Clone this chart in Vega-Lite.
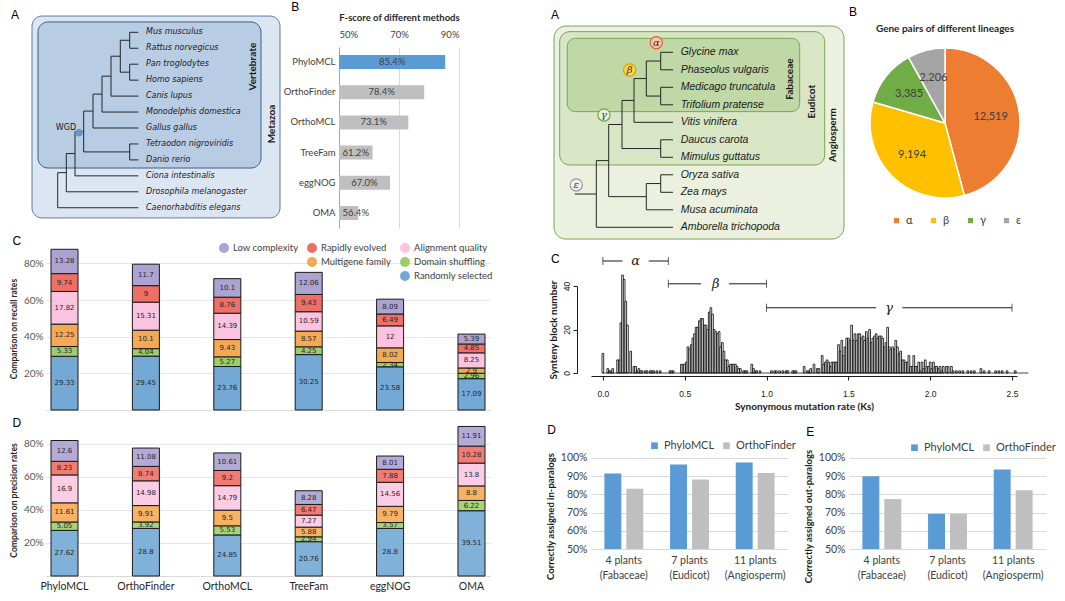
{
"$schema": "https://vega.github.io/schema/vega-lite/v6.json",
"padding": {"left": 8, "top": 0, "right": 0, "bottom": 0},
"config": {
  "view": {"stroke": "transparent"},
  "font": "Lato",
  "axis": {"labelFont": "Lato", "titleFont": "Lato", "labelColor": "#404040", "titleColor": "#262626", "gridColor": "#e3e3e3", "domainColor": "#bfbfbf", "tickColor": "#bfbfbf"},
  "legend": {"labelFont": "Lato", "labelColor": "#404040"},
  "title": {"font": "Liberation Sans", "fontSize": 12, "fontWeight": "normal", "color": "#000000", "anchor": "start", "baseline": "bottom"},
  "text": {"font": "Lato"}
},
"datasets": {
  "recall": [
    {"m":"PhyloMCL","c":"Randomly selected","o":1,"v":29.33},{"m":"PhyloMCL","c":"Domain shuffling","o":2,"v":5.33},{"m":"PhyloMCL","c":"Multigene family","o":3,"v":12.25},{"m":"PhyloMCL","c":"Alignment quality","o":4,"v":17.82},{"m":"PhyloMCL","c":"Rapidly evolved","o":5,"v":9.74},{"m":"PhyloMCL","c":"Low complexity","o":6,"v":13.28},
    {"m":"OrthoFinder","c":"Randomly selected","o":1,"v":29.45},{"m":"OrthoFinder","c":"Domain shuffling","o":2,"v":4.04},{"m":"OrthoFinder","c":"Multigene family","o":3,"v":10.1},{"m":"OrthoFinder","c":"Alignment quality","o":4,"v":15.31},{"m":"OrthoFinder","c":"Rapidly evolved","o":5,"v":9},{"m":"OrthoFinder","c":"Low complexity","o":6,"v":11.7},
    {"m":"OrthoMCL","c":"Randomly selected","o":1,"v":23.76},{"m":"OrthoMCL","c":"Domain shuffling","o":2,"v":5.27},{"m":"OrthoMCL","c":"Multigene family","o":3,"v":9.43},{"m":"OrthoMCL","c":"Alignment quality","o":4,"v":14.39},{"m":"OrthoMCL","c":"Rapidly evolved","o":5,"v":8.76},{"m":"OrthoMCL","c":"Low complexity","o":6,"v":10.1},
    {"m":"TreeFam","c":"Randomly selected","o":1,"v":30.25},{"m":"TreeFam","c":"Domain shuffling","o":2,"v":4.25},{"m":"TreeFam","c":"Multigene family","o":3,"v":8.57},{"m":"TreeFam","c":"Alignment quality","o":4,"v":10.59},{"m":"TreeFam","c":"Rapidly evolved","o":5,"v":9.43},{"m":"TreeFam","c":"Low complexity","o":6,"v":12.06},
    {"m":"eggNOG","c":"Randomly selected","o":1,"v":23.58},{"m":"eggNOG","c":"Domain shuffling","o":2,"v":2.34},{"m":"eggNOG","c":"Multigene family","o":3,"v":8.02},{"m":"eggNOG","c":"Alignment quality","o":4,"v":12},{"m":"eggNOG","c":"Rapidly evolved","o":5,"v":6.49},{"m":"eggNOG","c":"Low complexity","o":6,"v":8.09},
    {"m":"OMA","c":"Randomly selected","o":1,"v":17.09},{"m":"OMA","c":"Domain shuffling","o":2,"v":2.96},{"m":"OMA","c":"Multigene family","o":3,"v":2.9},{"m":"OMA","c":"Alignment quality","o":4,"v":8.25},{"m":"OMA","c":"Rapidly evolved","o":5,"v":4.85},{"m":"OMA","c":"Low complexity","o":6,"v":5.39}
  ],
  "precision": [
    {"m":"PhyloMCL","c":"Randomly selected","o":1,"v":27.62},{"m":"PhyloMCL","c":"Domain shuffling","o":2,"v":5.05},{"m":"PhyloMCL","c":"Multigene family","o":3,"v":11.61},{"m":"PhyloMCL","c":"Alignment quality","o":4,"v":16.9},{"m":"PhyloMCL","c":"Rapidly evolved","o":5,"v":8.23},{"m":"PhyloMCL","c":"Low complexity","o":6,"v":12.6},
    {"m":"OrthoFinder","c":"Randomly selected","o":1,"v":28.8},{"m":"OrthoFinder","c":"Domain shuffling","o":2,"v":3.92},{"m":"OrthoFinder","c":"Multigene family","o":3,"v":9.91},{"m":"OrthoFinder","c":"Alignment quality","o":4,"v":14.98},{"m":"OrthoFinder","c":"Rapidly evolved","o":5,"v":8.74},{"m":"OrthoFinder","c":"Low complexity","o":6,"v":11.08},
    {"m":"OrthoMCL","c":"Randomly selected","o":1,"v":24.85},{"m":"OrthoMCL","c":"Domain shuffling","o":2,"v":5.53},{"m":"OrthoMCL","c":"Multigene family","o":3,"v":9.5},{"m":"OrthoMCL","c":"Alignment quality","o":4,"v":14.79},{"m":"OrthoMCL","c":"Rapidly evolved","o":5,"v":9.2},{"m":"OrthoMCL","c":"Low complexity","o":6,"v":10.61},
    {"m":"TreeFam","c":"Randomly selected","o":1,"v":20.76},{"m":"TreeFam","c":"Domain shuffling","o":2,"v":2.94},{"m":"TreeFam","c":"Multigene family","o":3,"v":5.88},{"m":"TreeFam","c":"Alignment quality","o":4,"v":7.27},{"m":"TreeFam","c":"Rapidly evolved","o":5,"v":6.47},{"m":"TreeFam","c":"Low complexity","o":6,"v":8.28},
    {"m":"eggNOG","c":"Randomly selected","o":1,"v":28.8},{"m":"eggNOG","c":"Domain shuffling","o":2,"v":3.57},{"m":"eggNOG","c":"Multigene family","o":3,"v":9.79},{"m":"eggNOG","c":"Alignment quality","o":4,"v":14.56},{"m":"eggNOG","c":"Rapidly evolved","o":5,"v":7.88},{"m":"eggNOG","c":"Low complexity","o":6,"v":8.01},
    {"m":"OMA","c":"Randomly selected","o":1,"v":39.51},{"m":"OMA","c":"Domain shuffling","o":2,"v":6.22},{"m":"OMA","c":"Multigene family","o":3,"v":8.8},{"m":"OMA","c":"Alignment quality","o":4,"v":13.8},{"m":"OMA","c":"Rapidly evolved","o":5,"v":10.28},{"m":"OMA","c":"Low complexity","o":6,"v":11.91}
  ],
  "hist": [
    {"k":0,"n":9},{"k":0.03,"n":2},{"k":0.04,"n":1},{"k":0.05,"n":1},{"k":0.06,"n":2},{"k":0.09,"n":6},{"k":0.1,"n":6},{"k":0.11,"n":23},{"k":0.12,"n":45},{"k":0.13,"n":43},{"k":0.14,"n":33},{"k":0.15,"n":22},{"k":0.17,"n":10},{"k":0.19,"n":3},{"k":0.2,"n":3},{"k":0.21,"n":1},{"k":0.22,"n":2},{"k":0.23,"n":1},{"k":0.24,"n":1},{"k":0.26,"n":1},{"k":0.27,"n":1},{"k":0.29,"n":1},{"k":0.3,"n":1},{"k":0.31,"n":1},{"k":0.33,"n":1},{"k":0.35,"n":1},{"k":0.41,"n":1},{"k":0.42,"n":1},{"k":0.43,"n":1},
    {"k":0.48,"n":4},{"k":0.49,"n":4},{"k":0.5,"n":4},{"k":0.51,"n":5},{"k":0.52,"n":12},{"k":0.53,"n":11},{"k":0.54,"n":13},{"k":0.55,"n":16},{"k":0.56,"n":18},{"k":0.57,"n":21},{"k":0.58,"n":21},{"k":0.59,"n":24},{"k":0.6,"n":25},{"k":0.61,"n":25},{"k":0.62,"n":22},{"k":0.63,"n":22},{"k":0.64,"n":20},{"k":0.65,"n":28},{"k":0.66,"n":30},{"k":0.67,"n":27},{"k":0.68,"n":20},{"k":0.69,"n":19},{"k":0.7,"n":18},{"k":0.71,"n":19},{"k":0.72,"n":12},{"k":0.73,"n":14},{"k":0.74,"n":10},{"k":0.75,"n":6},{"k":0.76,"n":6},{"k":0.77,"n":3},{"k":0.78,"n":4},{"k":0.79,"n":4},{"k":0.8,"n":4},{"k":0.81,"n":4},{"k":0.82,"n":3},{"k":0.83,"n":2},{"k":0.84,"n":2},{"k":0.86,"n":1},{"k":0.87,"n":1},{"k":0.88,"n":1},{"k":0.91,"n":4},{"k":0.92,"n":2},{"k":0.93,"n":1},{"k":0.94,"n":1},{"k":0.96,"n":1},
    {"k":1.03,"n":1},{"k":1.05,"n":1},{"k":1.06,"n":1},{"k":1.08,"n":1},{"k":1.1,"n":1},{"k":1.12,"n":1},{"k":1.13,"n":1},{"k":1.16,"n":1},{"k":1.17,"n":1},{"k":1.18,"n":1},{"k":1.23,"n":3},{"k":1.25,"n":1},{"k":1.26,"n":1},{"k":1.27,"n":2},{"k":1.29,"n":4},{"k":1.31,"n":2},{"k":1.32,"n":2},
    {"k":1.34,"n":8},{"k":1.35,"n":4},{"k":1.36,"n":5},{"k":1.37,"n":6},{"k":1.38,"n":5},{"k":1.39,"n":3},{"k":1.4,"n":5},{"k":1.41,"n":5},{"k":1.42,"n":5},{"k":1.43,"n":5},{"k":1.44,"n":13},{"k":1.45,"n":10},{"k":1.46,"n":15},{"k":1.47,"n":8},{"k":1.48,"n":12},{"k":1.49,"n":16},{"k":1.5,"n":16},{"k":1.51,"n":15},{"k":1.52,"n":22},{"k":1.53,"n":15},{"k":1.54,"n":18},{"k":1.55,"n":15},{"k":1.56,"n":18},{"k":1.57,"n":18},{"k":1.58,"n":16},{"k":1.59,"n":17},{"k":1.6,"n":15},{"k":1.61,"n":19},{"k":1.62,"n":16},{"k":1.63,"n":20},{"k":1.64,"n":14},{"k":1.65,"n":16},{"k":1.66,"n":17},{"k":1.67,"n":18},{"k":1.68,"n":16},{"k":1.69,"n":17},{"k":1.7,"n":17},{"k":1.71,"n":16},{"k":1.72,"n":12},{"k":1.73,"n":14},{"k":1.74,"n":21},{"k":1.75,"n":12},{"k":1.76,"n":11},{"k":1.77,"n":12},{"k":1.78,"n":11},{"k":1.79,"n":15},{"k":1.8,"n":12},{"k":1.81,"n":9},{"k":1.82,"n":10},{"k":1.83,"n":6},{"k":1.84,"n":6},{"k":1.85,"n":5},{"k":1.86,"n":5},{"k":1.87,"n":8},{"k":1.88,"n":3},{"k":1.89,"n":3},{"k":1.9,"n":8},{"k":1.91,"n":3},{"k":1.92,"n":3},{"k":1.93,"n":5},{"k":1.94,"n":1},{"k":1.95,"n":5},{"k":1.96,"n":2},{"k":1.97,"n":6},{"k":1.98,"n":3},{"k":1.99,"n":3},{"k":2,"n":5},{"k":2.01,"n":2},{"k":2.02,"n":5},{"k":2.03,"n":3},{"k":2.04,"n":3},{"k":2.05,"n":2},{"k":2.06,"n":3},{"k":2.07,"n":1},{"k":2.08,"n":3},{"k":2.1,"n":3},{"k":2.11,"n":3},{"k":2.13,"n":3},{"k":2.14,"n":1},{"k":2.16,"n":1},{"k":2.18,"n":1},{"k":2.2,"n":1},{"k":2.23,"n":1},{"k":2.25,"n":1},{"k":2.27,"n":1},{"k":2.31,"n":2},{"k":2.33,"n":1},{"k":2.36,"n":1},{"k":2.4,"n":1},{"k":2.42,"n":1},{"k":2.44,"n":1},{"k":2.47,"n":1},{"k":2.52,"n":1}
  ]
},
"bounds": "full",
"spacing": 50,
"resolve": {"scale": {"color": "independent", "fill": "independent", "stroke": "independent"}, "legend": {"color": "independent", "fill": "independent", "stroke": "independent"}},
"hconcat": [
  {
    "bounds": "full",
    "spacing": 5,
    "resolve": {"scale": {"color": "independent", "fill": "independent", "stroke": "independent"}, "legend": {"color": "independent", "fill": "independent", "stroke": "independent"}},
    "vconcat": [
      {
        "bounds": "full",
        "spacing": 0,
        "resolve": {"scale": {"color": "independent", "fill": "independent", "stroke": "independent"}, "legend": {"color": "independent", "fill": "independent", "stroke": "independent"}},
        "hconcat": [
          {
            "width": 235, "height": 171,
            "title": {"text": "A", "frame": "group", "dx": -35, "offset": -6},
            "layer": [
              {"data": {"values": [{"x1": 31, "x2": 279, "y1": -1.02, "y2": 11.64}]},
               "mark": {"type": "rect", "cornerRadius": 10, "fill": "#dce6f2", "stroke": "#5d7ea1", "strokeWidth": 1},
               "encoding": {"x": {"field": "x1", "type": "quantitative", "scale": {"domain": [45, 280], "nice": false, "zero": false}, "axis": null}, "x2": {"field": "x2"},
                            "y": {"field": "y1", "type": "quantitative", "scale": {"domain": [0.9216, 11.643], "reverse": true, "nice": false, "zero": false}, "axis": null}, "y2": {"field": "y2"}}},
              {"data": {"values": [{"x1": 37, "x2": 260, "y1": -0.65, "y2": 8.51}]},
               "mark": {"type": "rect", "cornerRadius": 10, "fill": "#b8cce4", "stroke": "#3f5f83", "strokeWidth": 1},
               "encoding": {"x": {"field": "x1", "type": "quantitative", "scale": {"domain": [45, 280], "nice": false, "zero": false}, "axis": null}, "x2": {"field": "x2"},
                            "y": {"field": "y1", "type": "quantitative", "scale": {"domain": [0.9216, 11.643], "reverse": true, "nice": false, "zero": false}, "axis": null}, "y2": {"field": "y2"}}},
              {"data": {"values": [
                 {"x1":128.7,"x2":137.3,"y1":0,"y2":0},{"x1":128.7,"x2":137.3,"y1":1,"y2":1},{"x1":128.7,"x2":137.3,"y1":2,"y2":2},{"x1":128.7,"x2":137.3,"y1":3,"y2":3},
                 {"x1":128.7,"x2":128.7,"y1":0,"y2":1},{"x1":128.7,"x2":128.7,"y1":2,"y2":3},
                 {"x1":119.3,"x2":128.7,"y1":0.5,"y2":0.5},{"x1":119.3,"x2":128.7,"y1":2.5,"y2":2.5},{"x1":119.3,"x2":119.3,"y1":0.5,"y2":2.5},
                 {"x1":110,"x2":119.3,"y1":1.5,"y2":1.5},{"x1":110,"x2":137.3,"y1":4,"y2":4},{"x1":110,"x2":110,"y1":1.5,"y2":4},
                 {"x1":101,"x2":110,"y1":2.75,"y2":2.75},{"x1":101,"x2":137.3,"y1":5,"y2":5},{"x1":101,"x2":101,"y1":2.75,"y2":5},
                 {"x1":92,"x2":101,"y1":3.875,"y2":3.875},{"x1":92,"x2":137.3,"y1":6,"y2":6},{"x1":92,"x2":92,"y1":3.875,"y2":6},
                 {"x1":82.7,"x2":92,"y1":4.94,"y2":4.94},{"x1":128.7,"x2":137.3,"y1":7,"y2":7},{"x1":128.7,"x2":137.3,"y1":8,"y2":8},{"x1":128.7,"x2":128.7,"y1":7,"y2":8},{"x1":82.7,"x2":128.7,"y1":7.5,"y2":7.5},{"x1":82.7,"x2":82.7,"y1":4.94,"y2":7.5},
                 {"x1":74,"x2":82.7,"y1":6.22,"y2":6.22},{"x1":74,"x2":137.3,"y1":9,"y2":9},{"x1":74,"x2":74,"y1":6.22,"y2":9},
                 {"x1":65.3,"x2":74,"y1":7.6,"y2":7.6},{"x1":65.3,"x2":137.3,"y1":10,"y2":10},{"x1":65.3,"x2":65.3,"y1":7.6,"y2":10},
                 {"x1":56.7,"x2":65.3,"y1":8.8,"y2":8.8},{"x1":56.7,"x2":137.3,"y1":11,"y2":11},{"x1":56.7,"x2":56.7,"y1":8.8,"y2":11}
               ]},
               "mark": {"type": "rule", "color": "#262626", "strokeWidth": 1},
               "encoding": {"x": {"field": "x1", "type": "quantitative", "scale": {"domain": [45, 280], "nice": false, "zero": false}}, "x2": {"field": "x2"},
                            "y": {"field": "y1", "type": "quantitative", "scale": {"domain": [0.9216, 11.643], "reverse": true, "nice": false, "zero": false}}, "y2": {"field": "y2"}}},
              {"data": {"values": [
                 {"t":"Mus musculus","i":0},{"t":"Rattus norvegicus","i":1},{"t":"Pan troglodytes","i":2},{"t":"Homo sapiens","i":3},{"t":"Canis lupus","i":4},{"t":"Monodelphis domestica","i":5},
                 {"t":"Gallus gallus","i":6},{"t":"Tetraodon nigroviridis","i":7},{"t":"Danio rerio","i":8},{"t":"Ciona intestinalis","i":9},{"t":"Drosophila melanogaster","i":10},{"t":"Caenorhabditis elegans","i":11}
               ]},
               "mark": {"type": "text", "align": "left", "baseline": "middle", "font": "DejaVu Sans", "fontStyle": "italic", "fontSize": 8, "color": "#1a1a1a"},
               "encoding": {"x": {"datum": 145, "scale": {"domain": [45, 280], "nice": false, "zero": false}},
                            "y": {"field": "i", "type": "quantitative", "scale": {"domain": [0.9216, 11.643], "reverse": true, "nice": false, "zero": false}},
                            "text": {"field": "t"}}},
              {"data": {"values": [{"t":"Vertebrate","x":252,"i":2.15},{"t":"Metazoa","x":271,"i":5.75}]},
               "mark": {"type": "text", "angle": 270, "align": "center", "baseline": "middle", "font": "Lato", "fontWeight": "bold", "fontSize": 10, "color": "#1a1a1a"},
               "encoding": {"x": {"field": "x", "type": "quantitative", "scale": {"domain": [45, 280], "nice": false, "zero": false}},
                            "y": {"field": "i", "type": "quantitative", "scale": {"domain": [0.9216, 11.643], "reverse": true, "nice": false, "zero": false}},
                            "text": {"field": "t"}}},
              {"data": {"values": [{"t":"WGD","x":65,"i":6.0}]},
               "mark": {"type": "text", "align": "center", "baseline": "middle", "font": "DejaVu Sans", "fontSize": 8, "color": "#1a1a1a"},
               "encoding": {"x": {"field": "x", "type": "quantitative", "scale": {"domain": [45, 280], "nice": false, "zero": false}},
                            "y": {"field": "i", "type": "quantitative", "scale": {"domain": [0.9216, 11.643], "reverse": true, "nice": false, "zero": false}},
                            "text": {"field": "t"}}},
              {"data": {"values": [{"x":78,"i":6.3}]},
               "mark": {"type": "point", "filled": true, "size": 55, "color": "#6a96c8", "opacity": 1},
               "encoding": {"x": {"field": "x", "type": "quantitative", "scale": {"domain": [45, 280], "nice": false, "zero": false}},
                            "y": {"field": "i", "type": "quantitative", "scale": {"domain": [0.9216, 11.643], "reverse": true, "nice": false, "zero": false}}}}
            ]
          },
          {
            "width": 120, "height": 181,
            "title": {"text": "B", "frame": "bounds", "dx": 8, "offset": -2},
            "data": {"values": [{"m":"PhyloMCL","f":0.854},{"m":"OrthoFinder","f":0.784},{"m":"OrthoMCL","f":0.731},{"m":"TreeFam","f":0.612},{"m":"eggNOG","f":0.670},{"m":"OMA","f":0.564}]},
            "transform": [{"calculate": "max((0.5 + datum.f) / 2, 0.556)", "as": "mid"}],
            "encoding": {"y": {"field": "m", "type": "nominal", "sort": null, "scale": {"paddingInner": 0.536, "paddingOuter": 0.265},
                               "axis": {"title": null, "ticks": false, "labelFontSize": 9.5, "labelPadding": 4, "domainColor": "#a6a6a6", "labelColor": "#404040"}}},
            "layer": [
              {"mark": {"type": "bar"},
               "encoding": {"x": {"field": "f", "type": "quantitative", "scale": {"domain": [0.5, 0.9], "nice": false, "zero": false},
                                  "axis": {"orient": "top", "values": [0.5,0.55,0.6,0.65,0.7,0.75,0.8,0.85,0.9], "labelExpr": "round(datum.value*100) % 10 == 0 ? format(datum.value, '.0%') : ''",
                                           "grid": true, "gridColor": "#d9d9d9", "ticks": false, "domain": false, "labelPadding": 8, "labelFontSize": 9.5,
                                           "title": "F-score of different methods", "titleFontWeight": "bold", "titleFontSize": 9.5, "titlePadding": 7}},
                            "x2": {"datum": 0.5},
                            "color": {"condition": {"test": "datum.m === 'PhyloMCL'", "value": "#5b9bd5"}, "value": "#bfbfbf"}}},
              {"mark": {"type": "text", "fontSize": 9.5, "color": "#404040"},
               "encoding": {"x": {"field": "mid", "type": "quantitative"}, "text": {"field": "f", "type": "quantitative", "format": ".1%"}}}
            ]
          }
        ]
      },
      {
        "width": 444, "height": 163,
        "title": {"text": "C", "frame": "bounds", "dx": 3, "offset": -5},
        "data": {"name": "recall"},
        "encoding": {
          "x": {"field": "m", "type": "nominal", "sort": ["PhyloMCL","OrthoFinder","OrthoMCL","TreeFam","eggNOG","OMA"], "scale": {"paddingInner": 0.668, "paddingOuter": 0.0614},
                "axis": {"title": null, "labels": false, "ticks": false, "domainColor": "#d9d9d9"}},
          "y": {"field": "v", "type": "quantitative", "stack": "zero", "scale": {"domain": [0, 89], "nice": false},
                "axis": {"values": [20,40,60,80], "labelExpr": "datum.value + '%'", "title": "Comparison on recall rates", "titleFontWeight": "bold", "titleFontSize": 8.5,
                         "grid": true, "gridColor": "#e6e6e6", "domain": false, "ticks": false, "labelFontSize": 10, "labelColor": "#595959", "titlePadding": 5, "labelPadding": 3}},
          "order": {"field": "o", "type": "quantitative"}
        },
        "layer": [
          {"mark": {"type": "bar", "stroke": "#1a1a1a", "strokeWidth": 1},
           "encoding": {"color": {"field": "c", "type": "nominal",
              "scale": {"domain": ["Low complexity","Rapidly evolved","Alignment quality"," ","Multigene family","Domain shuffling","  ","   ","Randomly selected"],
                        "range": ["#aca3d3","#ee6f66","#fac3df","transparent","#f6a955","#9fcd6c","transparent","transparent","#74a9d6"]},
              "legend": {"orient": "none", "legendX": 173, "legendY": -4, "columns": 3, "direction": "horizontal", "title": null, "symbolType": "circle", "symbolSize": 100,
                         "symbolStrokeWidth": 0, "labelFontSize": 9.5, "columnPadding": 8, "rowPadding": 4, "labelColor": "#404040"}}}},
          {"mark": {"type": "text", "font": "DejaVu Sans", "fontSize": 7, "color": "#262626"},
           "encoding": {"y": {"field": "v", "type": "quantitative", "stack": "zero", "bandPosition": 0.5}, "detail": {"field": "c"}, "text": {"field": "v", "type": "nominal"}}}
        ]
      },
      {
        "width": 444, "height": 152,
        "title": {"text": "D", "frame": "bounds", "dx": 3, "offset": -6},
        "data": {"name": "precision"},
        "encoding": {
          "x": {"field": "m", "type": "nominal", "sort": ["PhyloMCL","OrthoFinder","OrthoMCL","TreeFam","eggNOG","OMA"], "scale": {"paddingInner": 0.668, "paddingOuter": 0.0614},
                "axis": {"title": null, "labelAngle": 0, "ticks": false, "domainColor": "#d9d9d9", "labelFontSize": 10.5, "labelColor": "#262626", "labelPadding": 5}},
          "y": {"field": "v", "type": "quantitative", "stack": "zero", "scale": {"domain": [0, 92], "nice": false},
                "axis": {"values": [20,40,60,80], "labelExpr": "datum.value + '%'", "title": "Comparison on precision rates", "titleFontWeight": "bold", "titleFontSize": 8.5,
                         "grid": true, "gridColor": "#e6e6e6", "domain": false, "ticks": false, "labelFontSize": 10, "labelColor": "#595959", "titlePadding": 5, "labelPadding": 3}},
          "order": {"field": "o", "type": "quantitative"}
        },
        "layer": [
          {"mark": {"type": "bar", "stroke": "#1a1a1a", "strokeWidth": 1},
           "encoding": {"color": {"field": "c", "type": "nominal",
              "scale": {"domain": ["Low complexity","Rapidly evolved","Alignment quality","Multigene family","Domain shuffling","Randomly selected"], "range": ["#b3abd6","#f07c73","#fbcde5","#f7b266","#a9d37a","#80b1d9"]},
              "legend": null}}},
          {"mark": {"type": "text", "font": "DejaVu Sans", "fontSize": 7, "color": "#262626"},
           "encoding": {"y": {"field": "v", "type": "quantitative", "stack": "zero", "bandPosition": 0.5}, "detail": {"field": "c"}, "text": {"field": "v", "type": "nominal"}}}
        ]
      }
    ]
  },
  {
    "bounds": "full",
    "spacing": 11,
    "resolve": {"scale": {"color": "independent", "fill": "independent", "stroke": "independent"}, "legend": {"color": "independent", "fill": "independent", "stroke": "independent"}},
    "vconcat": [
      {
        "bounds": "full",
        "spacing": 0,
        "resolve": {"scale": {"color": "independent", "fill": "independent", "stroke": "independent"}, "legend": {"color": "independent", "fill": "independent", "stroke": "independent"}},
        "hconcat": [
          {
            "width": 257, "height": 192,
            "title": {"text": "A", "frame": "group", "dx": -40, "offset": 4},
            "layer": [
              {"data": {"values": [{"x1": 26, "x2": 316, "y1": -1.5, "y2": 10.67}]},
               "mark": {"type": "rect", "cornerRadius": 12, "fill": "#ebf1de", "stroke": "#7aa354", "strokeWidth": 1},
               "encoding": {"x": {"field": "x1", "type": "quantitative", "scale": {"domain": [63, 320], "nice": false, "zero": false}, "axis": null}, "x2": {"field": "x2"},
                            "y": {"field": "y1", "type": "quantitative", "scale": {"domain": [-0.303, 10.669], "reverse": true, "nice": false, "zero": false}, "axis": null}, "y2": {"field": "y2"}}},
              {"data": {"values": [{"x1": 31.7, "x2": 296.7, "y1": -1.18, "y2": 6.44}]},
               "mark": {"type": "rect", "cornerRadius": 10, "fill": "#d8e6c6", "stroke": "#7aa354", "strokeWidth": 1},
               "encoding": {"x": {"field": "x1", "type": "quantitative", "scale": {"domain": [63, 320], "nice": false, "zero": false}, "axis": null}, "x2": {"field": "x2"},
                            "y": {"field": "y1", "type": "quantitative", "scale": {"domain": [-0.303, 10.669], "reverse": true, "nice": false, "zero": false}, "axis": null}, "y2": {"field": "y2"}}},
              {"data": {"values": [{"x1": 39.3, "x2": 271.7, "y1": -0.8, "y2": 3.39}]},
               "mark": {"type": "rect", "cornerRadius": 8, "fill": "#bfd8a6", "stroke": "#7aa354", "strokeWidth": 1},
               "encoding": {"x": {"field": "x1", "type": "quantitative", "scale": {"domain": [63, 320], "nice": false, "zero": false}, "axis": null}, "x2": {"field": "x2"},
                            "y": {"field": "y1", "type": "quantitative", "scale": {"domain": [-0.303, 10.669], "reverse": true, "nice": false, "zero": false}, "axis": null}, "y2": {"field": "y2"}}},
              {"data": {"values": [
                 {"x1":132.7,"x2":145,"y1":0,"y2":0},{"x1":132.7,"x2":145,"y1":1,"y2":1},{"x1":132.7,"x2":145,"y1":2,"y2":2},{"x1":132.7,"x2":145,"y1":3,"y2":3},
                 {"x1":132.7,"x2":145,"y1":5,"y2":5},{"x1":132.7,"x2":145,"y1":6,"y2":6},{"x1":132.7,"x2":145,"y1":7,"y2":7},{"x1":132.7,"x2":145,"y1":8,"y2":8},
                 {"x1":132.7,"x2":132.7,"y1":0,"y2":1},{"x1":132.7,"x2":132.7,"y1":2,"y2":3},{"x1":132.7,"x2":132.7,"y1":5,"y2":6},{"x1":132.7,"x2":132.7,"y1":7,"y2":8},
                 {"x1":118.3,"x2":132.7,"y1":0.5,"y2":0.5},{"x1":118.3,"x2":132.7,"y1":2.5,"y2":2.5},{"x1":118.3,"x2":118.3,"y1":0.5,"y2":2.5},
                 {"x1":106,"x2":118.3,"y1":1.5,"y2":1.5},{"x1":106,"x2":145,"y1":4,"y2":4},{"x1":106,"x2":106,"y1":1.5,"y2":4},
                 {"x1":94,"x2":106,"y1":2.75,"y2":2.75},{"x1":94,"x2":132.7,"y1":5.5,"y2":5.5},{"x1":94,"x2":94,"y1":2.75,"y2":5.5},
                 {"x1":80.7,"x2":94,"y1":4.125,"y2":4.125},
                 {"x1":118.3,"x2":132.7,"y1":7.5,"y2":7.5},{"x1":118.3,"x2":145,"y1":9,"y2":9},{"x1":118.3,"x2":118.3,"y1":7.5,"y2":9},
                 {"x1":80.7,"x2":118.3,"y1":8.25,"y2":8.25},{"x1":80.7,"x2":80.7,"y1":4.125,"y2":8.25},
                 {"x1":68.3,"x2":80.7,"y1":6.19,"y2":6.19},{"x1":68.3,"x2":145,"y1":10,"y2":10},{"x1":68.3,"x2":68.3,"y1":6.19,"y2":10},
                 {"x1":46.7,"x2":68.3,"y1":8.1,"y2":8.1}
               ]},
               "mark": {"type": "rule", "color": "#262626", "strokeWidth": 1},
               "encoding": {"x": {"field": "x1", "type": "quantitative", "scale": {"domain": [63, 320], "nice": false, "zero": false}}, "x2": {"field": "x2"},
                            "y": {"field": "y1", "type": "quantitative", "scale": {"domain": [-0.303, 10.669], "reverse": true, "nice": false, "zero": false}}, "y2": {"field": "y2"}}},
              {"data": {"values": [
                 {"t":"Glycine max","i":0},{"t":"Phaseolus vulgaris","i":1},{"t":"Medicago truncatula","i":2},{"t":"Trifolium pratense","i":3},{"t":"Vitis vinifera","i":4},{"t":"Daucus carota","i":5},
                 {"t":"Mimulus guttatus","i":6},{"t":"Oryza sativa","i":7},{"t":"Zea mays","i":8},{"t":"Musa acuminata","i":9},{"t":"Amborella trichopoda","i":10}
               ]},
               "mark": {"type": "text", "align": "left", "baseline": "middle", "font": "Liberation Sans", "fontStyle": "italic", "fontSize": 10.5, "color": "#1a1a1a"},
               "encoding": {"x": {"datum": 152.7, "scale": {"domain": [63, 320], "nice": false, "zero": false}},
                            "y": {"field": "i", "type": "quantitative", "scale": {"domain": [-0.303, 10.669], "reverse": true, "nice": false, "zero": false}},
                            "text": {"field": "t"}}},
              {"data": {"values": [{"t":"Fabaceae","x":261.7,"i":1.53},{"t":"Eudicot","x":284,"i":2.82},{"t":"Angiosperm","x":305,"i":4.73}]},
               "mark": {"type": "text", "angle": 270, "align": "center", "baseline": "middle", "font": "Lato", "fontWeight": "bold", "fontSize": 10, "color": "#1a1a1a"},
               "encoding": {"x": {"field": "x", "type": "quantitative", "scale": {"domain": [63, 320], "nice": false, "zero": false}},
                            "y": {"field": "i", "type": "quantitative", "scale": {"domain": [-0.303, 10.669], "reverse": true, "nice": false, "zero": false}},
                            "text": {"field": "t"}}},
              {"data": {"values": [{"g":"α","x":128.3,"i":-0.55},{"g":"β","x":101.7,"i":1.01},{"g":"γ","x":76,"i":3.58},{"g":"ε","x":48.3,"i":7.58}]},
               "mark": {"type": "point", "filled": true, "size": 150, "strokeWidth": 1.2, "opacity": 1},
               "encoding": {"x": {"field": "x", "type": "quantitative", "scale": {"domain": [63, 320], "nice": false, "zero": false}},
                            "y": {"field": "i", "type": "quantitative", "scale": {"domain": [-0.303, 10.669], "reverse": true, "nice": false, "zero": false}},
                            "fill": {"field": "g", "type": "nominal", "scale": {"domain": ["α","β","γ","ε"], "range": ["#f9c6ac","#ffd34f","#e6f1dc","#f0f0f0"]}, "legend": null},
                            "stroke": {"field": "g", "type": "nominal", "scale": {"domain": ["α","β","γ","ε"], "range": ["#e2622b","#d9a400","#6aa84f","#9a9a9a"]}, "legend": null}}},
              {"data": {"values": [{"g":"α","x":128.3,"i":-0.55},{"g":"β","x":101.7,"i":1.01},{"g":"γ","x":76,"i":3.58},{"g":"ε","x":48.3,"i":7.58}]},
               "mark": {"type": "text", "align": "center", "baseline": "middle", "font": "DejaVu Serif", "fontStyle": "italic", "fontSize": 10, "color": "#333333"},
               "encoding": {"x": {"field": "x", "type": "quantitative", "scale": {"domain": [63, 320], "nice": false, "zero": false}},
                            "y": {"field": "i", "type": "quantitative", "scale": {"domain": [-0.303, 10.669], "reverse": true, "nice": false, "zero": false}},
                            "text": {"field": "g"}}}
            ]
          },
          {
            "title": {"text": "B", "frame": "bounds", "dx": -18, "offset": 5},
            "bounds": "full",
            "vconcat": [
              {
                "width": 152, "height": 152,
                "title": {"text": "Gene pairs of different lineages", "frame": "group", "anchor": "middle", "offset": 11, "font": "Lato", "fontSize": 10, "fontWeight": "bold", "color": "#262626"},
                "data": {"values": [{"g":"α","v":12519,"o":1},{"g":"β","v":9194,"o":2},{"g":"γ","v":3385,"o":3},{"g":"ε","v":2206,"o":4}]},
                "encoding": {"theta": {"field": "v", "type": "quantitative", "stack": true}, "order": {"field": "o", "type": "quantitative"}},
                "layer": [
                  {"mark": {"type": "arc", "outerRadius": 75, "stroke": "white", "strokeWidth": 1.5},
                   "encoding": {"color": {"field": "g", "type": "nominal", "scale": {"domain": ["α","β","γ","ε"], "range": ["#ed7d31","#ffc000","#70ad47","#a5a5a5"]},
                                          "legend": {"orient": "none", "legendX": 22, "legendY": 168, "direction": "horizontal", "title": null, "symbolType": "square", "symbolSize": 45, "labelFontSize": 11, "columnPadding": 14, "labelColor": "#404040"}}}},
                  {"mark": {"type": "text", "radius": 46, "fontSize": 11, "color": "#404040"},
                   "encoding": {"detail": {"field": "g"}, "text": {"field": "v", "type": "quantitative", "format": ","}}}
                ]
              }
            ]
          }
        ]
      },
      {
        "width": 426, "height": 87,
        "title": {"text": "C", "frame": "group", "dx": -40, "offset": -11},
        "layer": [
          {"data": {"name": "hist"},
           "mark": {"type": "bar", "orient": "vertical", "size": 1.7, "fill": "white", "stroke": "#000000", "strokeWidth": 0.8},
           "encoding": {
             "x": {"field": "k", "type": "quantitative", "scale": {"domain": [-0.042, 2.5], "nice": false, "zero": false},
                   "axis": {"values": [0,0.5,1,1.5,2,2.5], "format": ".1f", "title": "Synonymous mutation rate (Ks)", "titleFontWeight": "bold", "titleFontSize": 10, "titleColor": "#1a1a1a", "titlePadding": 4,
                            "labelFont": "Liberation Sans", "labelFontSize": 8.5, "labelColor": "#1a1a1a", "domainColor": "#1a1a1a", "tickColor": "#1a1a1a", "tickSize": 4, "offset": 3, "grid": false, "labelPadding": 9}},
             "y": {"field": "n", "type": "quantitative", "stack": null, "scale": {"domain": [0, 40], "nice": false},
                   "axis": {"values": [0,10,20,30,40], "title": "Synteny block number", "titleFontWeight": "bold", "titleFontSize": 10, "titleColor": "#1a1a1a", "titlePadding": 4,
                            "labelAngle": -90, "labelAlign": "center", "labelBaseline": "bottom", "labelFont": "Liberation Sans", "labelFontSize": 8.5, "labelColor": "#1a1a1a",
                            "domainColor": "#1a1a1a", "tickColor": "#1a1a1a", "tickSize": 4, "domain": true, "grid": false, "offset": 14, "labelPadding": 2}}}},
          {"data": {"values": [{}]},
           "mark": {"type": "rule", "color": "#1a1a1a", "strokeWidth": 0.8},
           "encoding": {"x": {"datum": 0}, "x2": {"datum": 2.6}, "y": {"datum": 0}}},
          {"data": {"values": [{"x1":0,"x2":0.12,"y":51.5},{"x1":0.28,"x2":0.4,"y":51.5},{"x1":0.4,"x2":0.6,"y":41},{"x1":0.77,"x2":1.0,"y":41},{"x1":1.0,"x2":1.67,"y":30},{"x1":1.83,"x2":2.5,"y":30}]},
           "mark": {"type": "rule", "color": "#1a1a1a", "strokeWidth": 1},
           "encoding": {"x": {"field": "x1", "type": "quantitative"}, "x2": {"field": "x2"}, "y": {"field": "y", "type": "quantitative"}}},
          {"data": {"values": [{"x":0,"y":51.5},{"x":0.4,"y":51.5},{"x":0.4,"y":41},{"x":1.0,"y":41},{"x":1.0,"y":30},{"x":2.5,"y":30}]},
           "mark": {"type": "tick", "orient": "vertical", "size": 8, "thickness": 1, "color": "#1a1a1a"},
           "encoding": {"x": {"field": "x", "type": "quantitative"}, "y": {"field": "y", "type": "quantitative"}}},
          {"data": {"values": [{"t":"α","x":0.2,"y":51.5},{"t":"β","x":0.69,"y":41},{"t":"γ","x":1.75,"y":30}]},
           "mark": {"type": "text", "font": "DejaVu Serif", "fontStyle": "italic", "fontSize": 13, "baseline": "middle", "color": "#1a1a1a"},
           "encoding": {"x": {"field": "x", "type": "quantitative"}, "y": {"field": "y", "type": "quantitative"}, "text": {"field": "t"}}}
        ]
      },
      {
        "bounds": "full",
        "spacing": 5,
        "resolve": {"scale": {"color": "independent", "fill": "independent", "stroke": "independent"}, "legend": {"color": "independent", "fill": "independent", "stroke": "independent"}},
        "hconcat": [
          {
            "width": 197, "height": 118,
            "title": {"text": "D", "frame": "bounds", "dx": 2, "offset": -6},
            "data": {"values": [
              {"p":"4 plants (Fabaceae)","s":"PhyloMCL","v":0.915},{"p":"4 plants (Fabaceae)","s":"OrthoFinder","v":0.831},
              {"p":"7 plants (Eudicot)","s":"PhyloMCL","v":0.964},{"p":"7 plants (Eudicot)","s":"OrthoFinder","v":0.882},
              {"p":"11 plants (Angiosperm)","s":"PhyloMCL","v":0.975},{"p":"11 plants (Angiosperm)","s":"OrthoFinder","v":0.918}
            ]},
            "mark": {"type": "bar"},
            "encoding": {
              "x": {"field": "p", "type": "nominal", "sort": null, "scale": {"paddingInner": 0, "paddingOuter": 0},
                    "axis": {"title": null, "labelAngle": 0, "ticks": false, "domainColor": "#d9d9d9", "labelFontSize": 10.5, "labelColor": "#404040", "labelPadding": 6, "labelLineHeight": 15,
                             "labelExpr": "[slice(datum.label, 0, indexof(datum.label, ' (')), slice(datum.label, indexof(datum.label, ' (') + 1)]"}},
              "xOffset": {"field": "s", "type": "nominal", "sort": ["PhyloMCL","OrthoFinder"], "scale": {"paddingInner": 0.227, "paddingOuter": 0.61}},
              "y": {"field": "v", "type": "quantitative", "scale": {"domain": [0.5, 1.148], "nice": false, "zero": false},
                    "axis": {"values": [0.5,0.6,0.7,0.8,0.9,1.0], "format": ".0%", "title": "Correctly assigned in-paralogs", "titleFontWeight": "bold", "titleFontSize": 9.5, "titleColor": "#1a1a1a", "titleY": 85,
                             "grid": true, "gridColor": "#d9d9d9", "domain": false, "ticks": false, "labelFontSize": 10.5, "labelColor": "#404040", "labelPadding": 4, "titlePadding": 5}},
              "y2": {"datum": 0.5},
              "color": {"field": "s", "type": "nominal", "scale": {"domain": ["PhyloMCL","OrthoFinder"], "range": ["#5b9bd5","#bfbfbf"]},
                        "legend": {"orient": "none", "legendX": 58, "legendY": 9, "direction": "horizontal", "title": null, "symbolType": "square", "symbolSize": 45, "labelFontSize": 11, "columnPadding": 6, "labelColor": "#404040"}}
            }
          },
          {
            "width": 197, "height": 118,
            "title": {"text": "E", "frame": "bounds", "dx": 3, "offset": -8},
            "data": {"values": [
              {"p":"4 plants (Fabaceae)","s":"PhyloMCL","v":0.90},{"p":"4 plants (Fabaceae)","s":"OrthoFinder","v":0.774},
              {"p":"7 plants (Eudicot)","s":"PhyloMCL","v":0.693},{"p":"7 plants (Eudicot)","s":"OrthoFinder","v":0.693},
              {"p":"11 plants (Angiosperm)","s":"PhyloMCL","v":0.936},{"p":"11 plants (Angiosperm)","s":"OrthoFinder","v":0.822}
            ]},
            "mark": {"type": "bar"},
            "encoding": {
              "x": {"field": "p", "type": "nominal", "sort": null, "scale": {"paddingInner": 0, "paddingOuter": 0},
                    "axis": {"title": null, "labelAngle": 0, "ticks": false, "domainColor": "#d9d9d9", "labelFontSize": 10.5, "labelColor": "#404040", "labelPadding": 6, "labelLineHeight": 15,
                             "labelExpr": "[slice(datum.label, 0, indexof(datum.label, ' (')), slice(datum.label, indexof(datum.label, ' (') + 1)]"}},
              "xOffset": {"field": "s", "type": "nominal", "sort": ["PhyloMCL","OrthoFinder"], "scale": {"paddingInner": 0.227, "paddingOuter": 0.61}},
              "y": {"field": "v", "type": "quantitative", "scale": {"domain": [0.5, 1.148], "nice": false, "zero": false},
                    "axis": {"values": [0.5,0.6,0.7,0.8,0.9,1.0], "format": ".0%", "title": "Correctly assigned out-paralogs", "titleFontWeight": "bold", "titleFontSize": 9.5, "titleColor": "#1a1a1a", "titleY": 85,
                             "grid": true, "gridColor": "#d9d9d9", "domain": false, "ticks": false, "labelFontSize": 10.5, "labelColor": "#404040", "labelPadding": 4, "titlePadding": 5}},
              "y2": {"datum": 0.5},
              "color": {"field": "s", "type": "nominal", "scale": {"domain": ["PhyloMCL","OrthoFinder"], "range": ["#5b9bd5","#bfbfbf"]},
                        "legend": {"orient": "none", "legendX": 60, "legendY": 11, "direction": "horizontal", "title": null, "symbolType": "square", "symbolSize": 45, "labelFontSize": 11, "columnPadding": 6, "labelColor": "#404040"}}
            }
          }
        ]
      }
    ]
  }
]
}
